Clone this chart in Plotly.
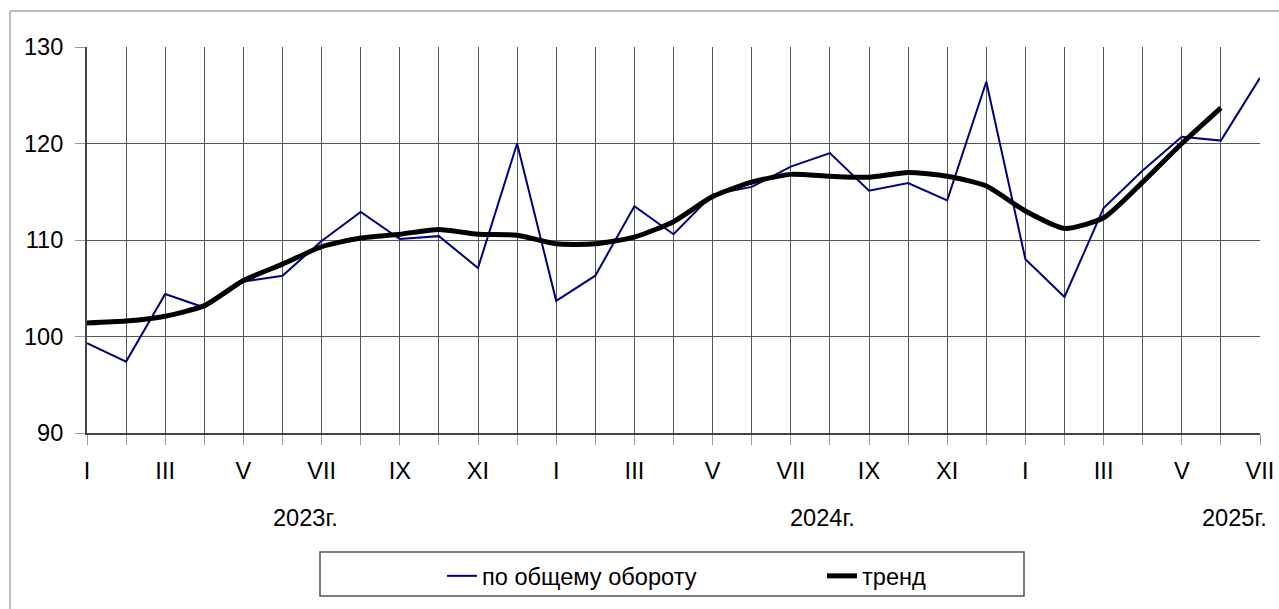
import plotly.graph_objects as go

# === DADOS ===
meses = ["I", "II", "III", "IV", "V", "VI", "VII", "VIII", "IX", "X", "XI", "XII",
         "I", "II", "III", "IV", "V", "VI", "VII", "VIII", "IX", "X", "XI", "XII",
         "I", "II", "III", "IV", "V", "VI", "VII"]
anos = ["2023г.", "2024г.", "2025г."]

# по общему обороту
oborot = [99.3, 97.4, 104.4, 103.0, 105.7, 106.3, 109.9, 112.9, 110.1, 110.4,
          107.1, 120.0, 103.7, 106.3, 113.5, 110.6, 114.7, 115.5, 117.6, 119.0,
          115.1, 115.9, 114.1, 126.4, 108.0, 104.1, 113.3, 117.2, 120.7, 120.3,
          126.8]

# тренд (sem valor para o último mês)
trend = [101.4, 101.6, 102.1, 103.2, 105.8, 107.5, 109.3, 110.2, 110.6, 111.1,
         110.6, 110.5, 109.6, 109.6, 110.3, 111.9, 114.5, 116.0, 116.8, 116.6,
         116.5, 117.0, 116.6, 115.6, 113.0, 111.2, 112.3, 116.0, 120.0, 123.7]

FONT = "Liberation Sans, Arial, sans-serif"
FS = 23.6
GRID = "#555555"

x = list(range(len(meses)))
ticktext = [m if i % 2 == 0 else "" for i, m in enumerate(meses)]

fig = go.Figure()
fig.add_trace(go.Scatter(x=x, y=oborot, mode="lines", name="по общему обороту",
                         line=dict(color="#000080", width=2)))
fig.add_trace(go.Scatter(x=x[:len(trend)], y=trend, mode="lines", name="тренд",
                         line=dict(color="black", width=5, shape="spline", smoothing=0.6)))

fig.update_layout(
    width=1279, height=609,
    margin=dict(l=87, r=19, t=47, b=176),
    paper_bgcolor="white", plot_bgcolor="white",
    font=dict(family=FONT, size=FS, color="black"),
    showlegend=True,
    legend=dict(orientation="h", xref="container", yref="container",
                x=442 / 1279, xanchor="left", y=1 - 576 / 609, yanchor="middle",
                entrywidth=335, font=dict(size=FS), bgcolor="rgba(0,0,0,0)",
                borderwidth=0),
    xaxis=dict(range=[0, 30], tickvals=x, ticktext=ticktext,
               showgrid=True, gridcolor=GRID, gridwidth=1,
               ticks="outside", ticklen=10, tickcolor="#999999",
               ticklabelstandoff=6, automargin=False,
               showline=True, linecolor="#444444", linewidth=2, mirror=False,
               zeroline=False, fixedrange=True),
    yaxis=dict(range=[90, 130], tickvals=[90, 100, 110, 120, 130],
               showgrid=True, gridcolor=GRID, gridwidth=1,
               ticks="outside", ticklen=10, tickcolor="#999999",
               ticklabelstandoff=7, automargin=False,
               showline=True, linecolor="#444444", linewidth=2,
               zeroline=False, fixedrange=True),
)

# moldura externa (só esquerda e topo visíveis) e caixa da legenda
fig.add_shape(type="line", xref="paper", yref="paper", x0=-77 / 1173, x1=1.2,
              y0=1 + 36 / 386, y1=1 + 36 / 386, line=dict(color="#aaaaaa", width=1.5))
fig.add_shape(type="line", xref="paper", yref="paper", x0=-77 / 1173, x1=-77 / 1173,
              y0=1 + 36 / 386, y1=-0.6, line=dict(color="#aaaaaa", width=1.5))
fig.add_shape(type="rect", xref="paper", yref="paper",
              x0=(320 - 87) / 1173, x1=(1024 - 87) / 1173,
              y0=-(596 - 433) / 386, y1=-(552 - 433) / 386,
              line=dict(color="#555555", width=1.5), fillcolor="rgba(0,0,0,0)")

# anos abaixo dos meses
for ano, pos in zip(anos, [5.6, 18.8, 29.35]):
    fig.add_annotation(text=ano, x=pos, xref="x", y=-(518 - 433) / 386, yref="paper",
                       showarrow=False, yanchor="middle", xanchor="center",
                       font=dict(size=FS))

# tira a margem padrão do body para a figura ocupar a janela inteira
fig.write_html("out.html", config={"displayModeBar": False},
               post_script="document.body.style.margin='0';")
